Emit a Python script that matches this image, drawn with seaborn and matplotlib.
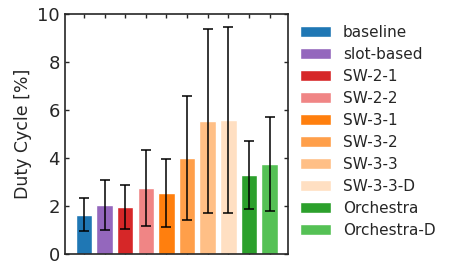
import numpy as np
import pandas as pd
import matplotlib
matplotlib.use("Agg")
import matplotlib.pyplot as plt
import seaborn as sns
from matplotlib.patches import Patch

# === 1. Data ===
methods = ['baseline', 'slot-based', 'SW-2-1', 'SW-2-2', 'SW-3-1',
           'SW-3-2', 'SW-3-3', 'SW-3-3-D', 'Orchestra', 'Orchestra-D']
duty_mean = [1.63, 2.03, 1.95, 2.75, 2.53, 4.00, 5.53, 5.57, 3.29, 3.75]
duty_std = [0.69, 1.03, 0.93, 1.59, 1.40, 2.59, 3.84, 3.87, 1.40, 1.96]
colors = ['#1f77b4', '#9467bd', '#d62728', '#f08585', '#ff7f0e',
          '#ff9f4a', '#ffbf86', '#ffdfc2', '#2ca02c', '#55c155']

df = pd.DataFrame({'method': methods, 'duty': duty_mean, 'std': duty_std})

# === 2. Plot ===
sns.set_style('ticks')
plt.rcParams['font.family'] = ['DejaVu Sans']

fig = plt.figure(figsize=(4.56, 2.67), dpi=100)
ax = fig.add_axes([0.142, 0.049, 0.49, 0.9])

sns.barplot(data=df, x='method', y='duty', hue='method', palette=colors,
            order=methods, hue_order=methods, width=0.8, dodge=False,
            legend=False, errorbar=None, saturation=1, ax=ax)
ax.errorbar(np.arange(len(methods)), df['duty'], yerr=df['std'], fmt='none',
            ecolor='black', elinewidth=1.1, capsize=3.5, capthick=1.1)

ax.set_xlim(-0.93, 9.9)
ax.set_ylim(0, 10)
ax.set_yticks([0, 2, 4, 6, 8, 10])
ax.set_xticks(np.arange(len(methods)))
ax.set_xticklabels([])
ax.set_xlabel('')
ax.set_ylabel('Duty Cycle [%]', fontsize=12.5)
ax.tick_params(direction='in', top=True, right=True, labelsize=13,
               length=3, width=1)
for s in ax.spines.values():
    s.set_linewidth(1.2)

handles = [Patch(facecolor=c, label=m) for m, c in zip(methods, colors)]
fig.legend(handles=handles, loc='upper left', bbox_to_anchor=(0.645, 0.93),
           frameon=False, fontsize=11, handlelength=2.0, handleheight=0.7,
           handletextpad=0.8, labelspacing=0.46, borderaxespad=0)

fig.savefig('out.png', dpi=100)
